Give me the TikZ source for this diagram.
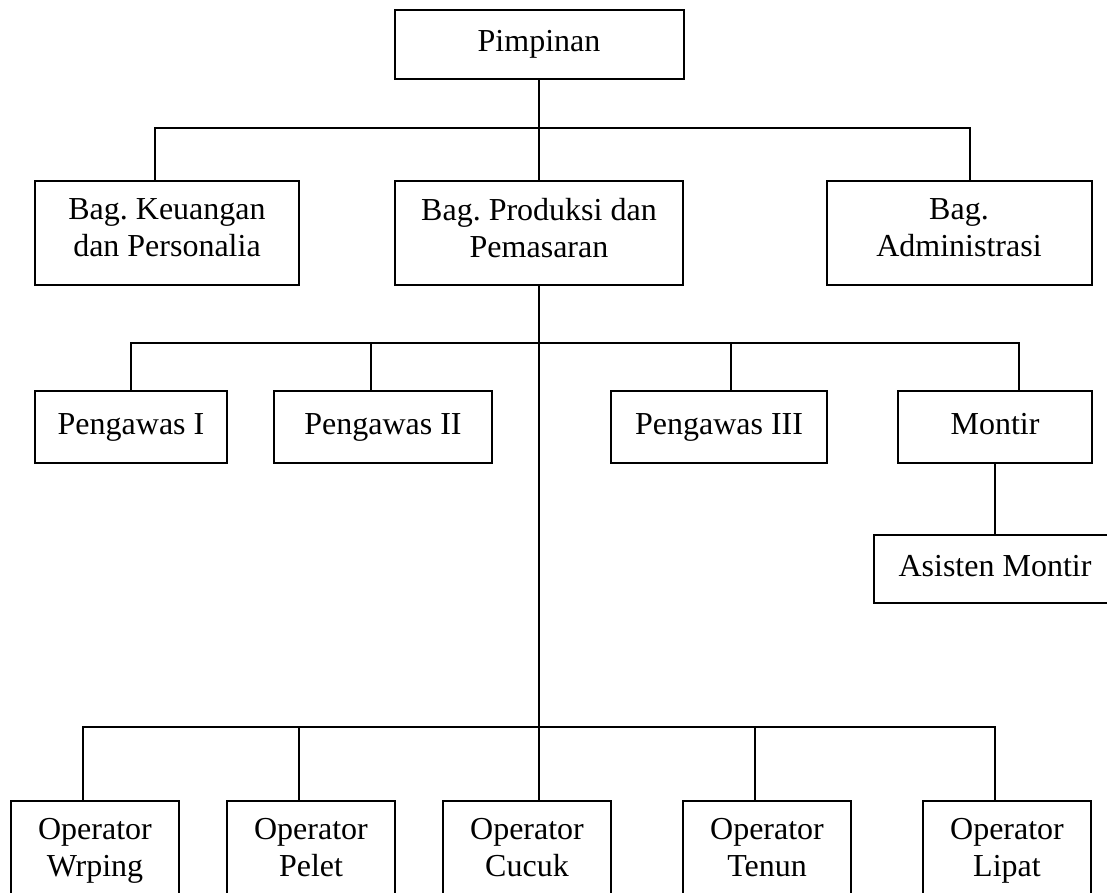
\documentclass[tikz,border=0pt]{standalone}
\usepackage{fontspec}
\setmainfont{Liberation Serif}
\usetikzlibrary{calc}
\frenchspacing

\begin{document}
\begin{tikzpicture}[x=1pt, y=-1pt, line width=2pt,
    kotak/.style={draw, rectangle, inner sep=0pt, align=center,
        font=\fontsize{32}{37}\selectfont, execute at begin node=\strut},
    kotak2/.style={kotak, minimum height=104}]
    \useasboundingbox (0, 0) rectangle (1107, 892);
    \clip (0, 0) rectangle (1107, 892);

    \node [kotak, minimum width=289, minimum height=69] (pimpinan) at (539, 44.5) {Pimpinan};

    \node [kotak2, minimum width=264] (keu) at (167, 233) {Bag. Keuangan\\\strut dan Personalia};
    \node [kotak2, minimum width=288] (prod) at (539, 233) {Bag. Produksi dan\\\strut Pemasaran};
    \node [kotak2, minimum width=265] (adm) at (959, 233) {Bag.\\\strut Administrasi};

    \node [kotak, minimum width=192, minimum height=72] (peng1) at (131, 427) {Pengawas I};
    \node [kotak, minimum width=218, minimum height=72] (peng2) at (383, 427) {Pengawas II};
    \node [kotak, minimum width=216, minimum height=72] (peng3) at (719, 427) {Pengawas III};
    \node [kotak, minimum width=194, minimum height=72] (montir) at (995, 427) {Montir};
    \node [kotak, minimum width=242, minimum height=68] (asisten) at (995, 569) {Asisten Montir};

    \node [kotak2, minimum width=168] (opw) at (95, 853) {Operator\\\strut Wrping};
    \node [kotak2, minimum width=168] (opp) at (311, 853) {Operator\\\strut Pelet};
    \node [kotak2, minimum width=168] (opc) at (527, 853) {Operator\\\strut Cucuk};
    \node [kotak2, minimum width=168] (opt) at (767, 853) {Operator\\\strut Tenun};
    \node [kotak2, minimum width=168] (opl) at (1007, 853) {Operator\\\strut Lipat};

    \coordinate (bus1) at (539, 127.5);
    \coordinate (bus2) at (539, 343);
    \coordinate (bus3) at (539, 727);

    \draw (pimpinan) -- (prod);
    \draw ($(keu.north)+(-12,0)$) |- (bus1) -| ($(adm.north)+(11,0)$);
    \draw (prod) -- (bus3);

    \draw (peng1.north) |- (bus2) -| ($(montir.north)+(24,0)$);
    \draw ($(peng2.north)+(-12,0)$) |- (bus2);
    \draw ($(peng3.north)+(12,0)$) |- (bus2);
    \draw (montir) -- (asisten);

    \draw ($(opw.north)+(-12,0)$) |- (bus3) -| ($(opl.north)+(-12,0)$);
    \foreach \op/\dx in {opp/-12, opc/12, opt/-12}
        \draw ($(\op.north)+(\dx,0)$) |- (bus3);
\end{tikzpicture}
\end{document}
